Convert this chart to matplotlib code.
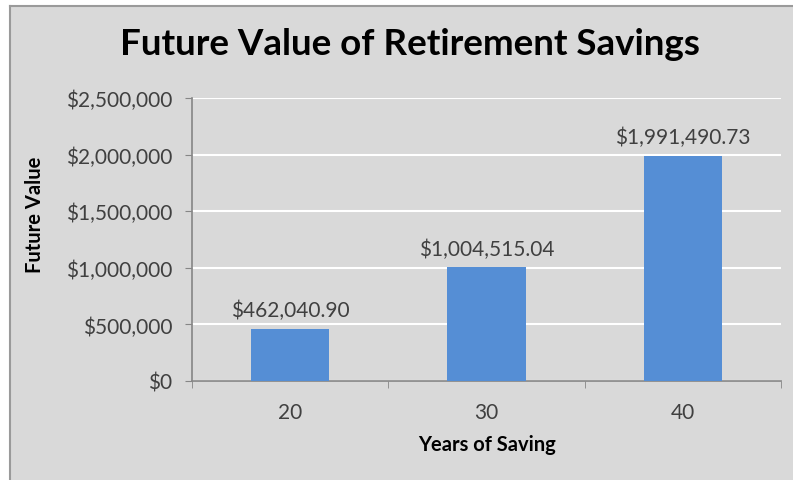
import matplotlib
matplotlib.use("Agg")
import matplotlib.pyplot as plt
import matplotlib.ticker as mticker
from matplotlib.patches import Rectangle

# ── Data ──────────────────────────────────────────────────────────────────────
years = ["20", "30", "40"]
future_values = [462040.90, 1004515.04, 1991490.73]
y_ticks = [0, 500000, 1000000, 1500000, 2000000, 2500000]

BAR_COLOR = "#558ED5"
BG = "#D9D9D9"
TEXT = "#404040"

plt.rcParams["font.family"] = ["Lato", "DejaVu Sans"]

W, H = 793, 481
fig = plt.figure(figsize=(W / 100, H / 100), dpi=100)
fig.patch.set_facecolor("white")

# chart area background with left/top border
fig.patches.append(Rectangle((10 / W, 0), 1 - 10 / W, 1 - 7 / H, transform=fig.transFigure,
                             facecolor=BG, edgecolor="none", zorder=-5))
fig.add_artist(plt.Line2D([10 / W, 10 / W], [0, 1 - 7 / H], transform=fig.transFigure,
                          color="#9A9A9A", lw=1.5, zorder=-4))
fig.add_artist(plt.Line2D([10 / W, 1], [1 - 7 / H, 1 - 7 / H], transform=fig.transFigure,
                          color="#9A9A9A", lw=1.5, zorder=-4))

ax = fig.add_axes([192 / W, (H - 382) / H, (781 - 192) / W, (382 - 99) / H])
ax.set_facecolor(BG)

x = list(range(len(years)))
bars = ax.bar(x, future_values, width=0.4, color=BAR_COLOR, zorder=3)

for xi, v in zip(x, future_values):
    ax.annotate(f"${v:,.2f}", (xi, v), xytext=(0, 6), textcoords="offset points",
                ha="center", va="bottom", fontsize=15, color=TEXT)

ax.set_xlim(-0.5, len(years) - 0.5)
ax.set_ylim(0, 2500000)
ax.set_yticks(y_ticks)
ax.yaxis.set_major_formatter(mticker.FuncFormatter(lambda v, _: f"${int(v):,}"))
ax.grid(axis="y", color="white", lw=1.5, zorder=1)

ax.set_xticks(x)
ax.set_xticklabels(years)
ax.set_xticks([-0.5, 0.5, 1.5, 2.5], minor=True)
ax.tick_params(axis="x", which="major", length=0, pad=15, labelsize=15, labelcolor=TEXT)
ax.tick_params(axis="x", which="minor", length=5, color="#868686", direction="out")
ax.tick_params(axis="y", length=5, color="#868686", pad=9, labelsize=15, labelcolor=TEXT)

for s in ["top", "right"]:
    ax.spines[s].set_visible(False)
for s in ["left", "bottom"]:
    ax.spines[s].set_color("#868686")
    ax.spines[s].set_linewidth(1.2)

fig.text(410 / W, 1 - 45 / H, "Future Value of Retirement Savings", ha="center", va="center",
         fontsize=26.5, fontweight="bold", color="black")
fig.text(35 / W, 1 - 215 / H, "Future Value", ha="center", va="center", rotation=90,
         fontsize=14.5, fontweight="bold", color="black")
fig.text(487 / W, 1 - 445 / H, "Years of Saving", ha="center", va="center",
         fontsize=14.5, fontweight="bold", color="black")

fig.savefig("out.png", dpi=100)
